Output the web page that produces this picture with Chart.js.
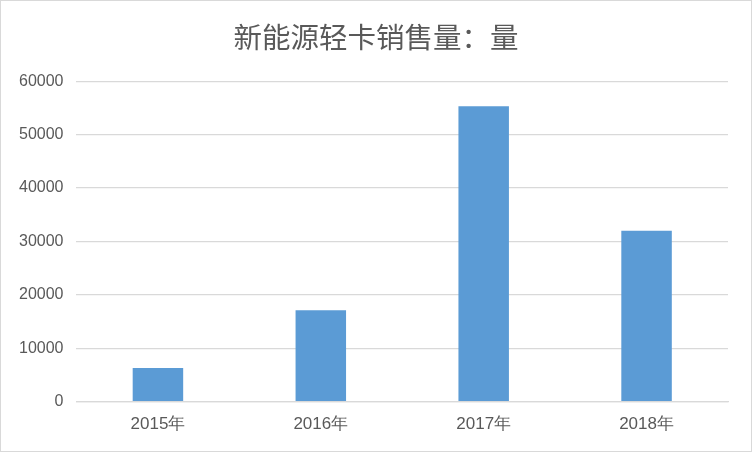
<!DOCTYPE html>
<html>
<head>
<meta charset="utf-8">
<script src="https://cdn.jsdelivr.net/npm/chart.js@4"></script>
<style>
  body { margin: 0; background: #fff; }
  #wrap { width: 750px; height: 450px; border: 1px solid #d9d9d9; position: relative; }
</style>
</head>
<body>
<div id="wrap"><canvas id="salesChart" width="750" height="450"></canvas></div>
<script>
const years = ["2015年", "2016年", "2017年", "2018年"];
const sales = [6300, 17100, 55300, 32000];
const yTicks = [0, 10000, 20000, 30000, 40000, 50000, 60000];

const ctx = document.getElementById('salesChart').getContext('2d');

// center the title on the whole canvas, not just the padded area
const centerTitle = {
    id: 'centerTitle',
    afterLayout(chart) {
        const t = chart.titleBlock;
        if (t) {
            t.left = 0;
            t.right = chart.width;
            t.width = chart.width;
        }
    }
};

new Chart(ctx, {
    type: 'bar',
    data: {
        labels: years,
        datasets: [{
            label: "销售量",
            data: sales,
            backgroundColor: "#5b9bd5",
            categoryPercentage: 0.31,
            barPercentage: 1.0
        }]
    },
    options: {
        responsive: false,
        animation: false,
        layout: {
            padding: { left: 5, right: 23, bottom: 11 }
        },
        plugins: {
            legend: { display: false },
            tooltip: { enabled: false },
            title: {
                display: true,
                text: "新能源轻卡销售量：量",
                color: "#595959",
                font: { family: "'Noto Sans CJK SC', sans-serif", size: 28.5, weight: 'normal' },
                padding: { top: 19, bottom: 27 }
            }
        },
        scales: {
            x: {
                grid: { display: false },
                border: { color: "#d9d9d9", width: 1.3 },
                ticks: {
                    color: "#595959",
                    padding: 5,
                    font: { family: "'Liberation Sans', sans-serif", size: 17 }
                }
            },
            y: {
                min: 0,
                max: 60000,
                afterBuildTicks: (axis) => {
                    axis.ticks = yTicks.map(v => ({ value: v }));
                },
                grid: { color: "#d9d9d9", lineWidth: 1.3, drawTicks: false },
                border: { display: false },
                ticks: {
                    color: "#595959",
                    padding: 13,
                    font: { family: "'Liberation Sans', sans-serif", size: 16 },
                    callback: (value) => String(value)
                }
            }
        }
    },
    plugins: [centerTitle]
});
</script>
</body>
</html>
